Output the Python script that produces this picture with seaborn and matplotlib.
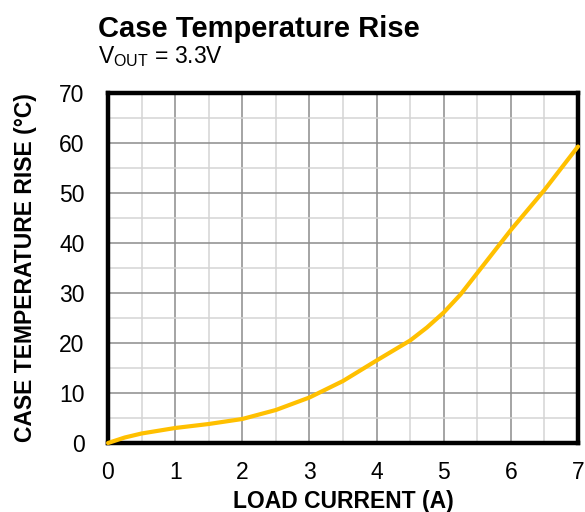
import matplotlib
matplotlib.use("Agg")
import matplotlib.pyplot as plt
import seaborn as sns
import pandas as pd
from matplotlib.ticker import MultipleLocator

load_current = [0.0, 0.25, 0.5, 1.0, 1.5, 2.0, 2.5, 3.0, 3.5, 4.0, 4.5, 4.75, 5.0, 5.25, 5.5, 6.0, 6.5, 7.0]
temp_rise = [0.0, 1.1, 1.9, 3.0, 3.8, 4.8, 6.6, 9.1, 12.4, 16.5, 20.5, 23.1, 26.1, 29.7, 34.0, 42.6, 50.6, 59.3]

x_ticks = [0, 1, 2, 3, 4, 5, 6, 7]
y_ticks = [0, 10, 20, 30, 40, 50, 60, 70]

title = "Case Temperature Rise"
subtitle = r"V$_{\mathrm{OUT}}$ = 3.3V"
x_label = "LOAD CURRENT (A)"
y_label = "CASE TEMPERATURE RISE (°C)"

sns.set_theme(style="white")
plt.rcParams["font.family"] = ["Liberation Sans", "DejaVu Sans"]
plt.rcParams["mathtext.fontset"] = "custom"
plt.rcParams["mathtext.rm"] = "Liberation Sans"
plt.rcParams["text.color"] = "black"
plt.rcParams["axes.labelcolor"] = "black"

df = pd.DataFrame({"I": load_current, "T": temp_rise})

fig = plt.figure(figsize=(5.85, 5.12), dpi=100)
ax = fig.add_axes([108/585, 1-443/512, (578-108)/585, (443-93)/512])

ax.set_xlim(0, 7)
ax.set_ylim(0, 70)
ax.xaxis.set_major_locator(MultipleLocator(1))
ax.xaxis.set_minor_locator(MultipleLocator(0.5))
ax.yaxis.set_major_locator(MultipleLocator(10))
ax.yaxis.set_minor_locator(MultipleLocator(5))
ax.set_xticks(x_ticks)
ax.set_yticks(y_ticks)
ax.grid(True, which="major", color="#8c8c8c", linewidth=1.1)
ax.grid(True, which="minor", color="#d4d4d4", linewidth=1.1)
ax.set_axisbelow(True)

sns.lineplot(data=df, x="I", y="T", ax=ax, color="#FFC000", linewidth=3.0,
             solid_capstyle="round", solid_joinstyle="round", clip_on=False, zorder=5)

for s in ax.spines.values():
    s.set_visible(True)
    s.set_color("black")
    s.set_linewidth(3.2)

ax.tick_params(axis="both", which="both", length=0, labelsize=16.5, colors="black")
ax.tick_params(axis="x", pad=13)
ax.tick_params(axis="y", pad=17)
ax.set_xlabel(x_label, fontsize=16.5, fontweight="bold", labelpad=4)
ax.set_ylabel(y_label, fontsize=16.5, fontweight="bold", labelpad=16)

fig.text(98/585, 1-37/512, title, fontsize=21, fontweight="bold", ha="left", va="baseline")
fig.text(98/585, 1-63/512, subtitle, fontsize=16.5, ha="left", va="baseline")

fig.savefig("out.png", dpi=100)
